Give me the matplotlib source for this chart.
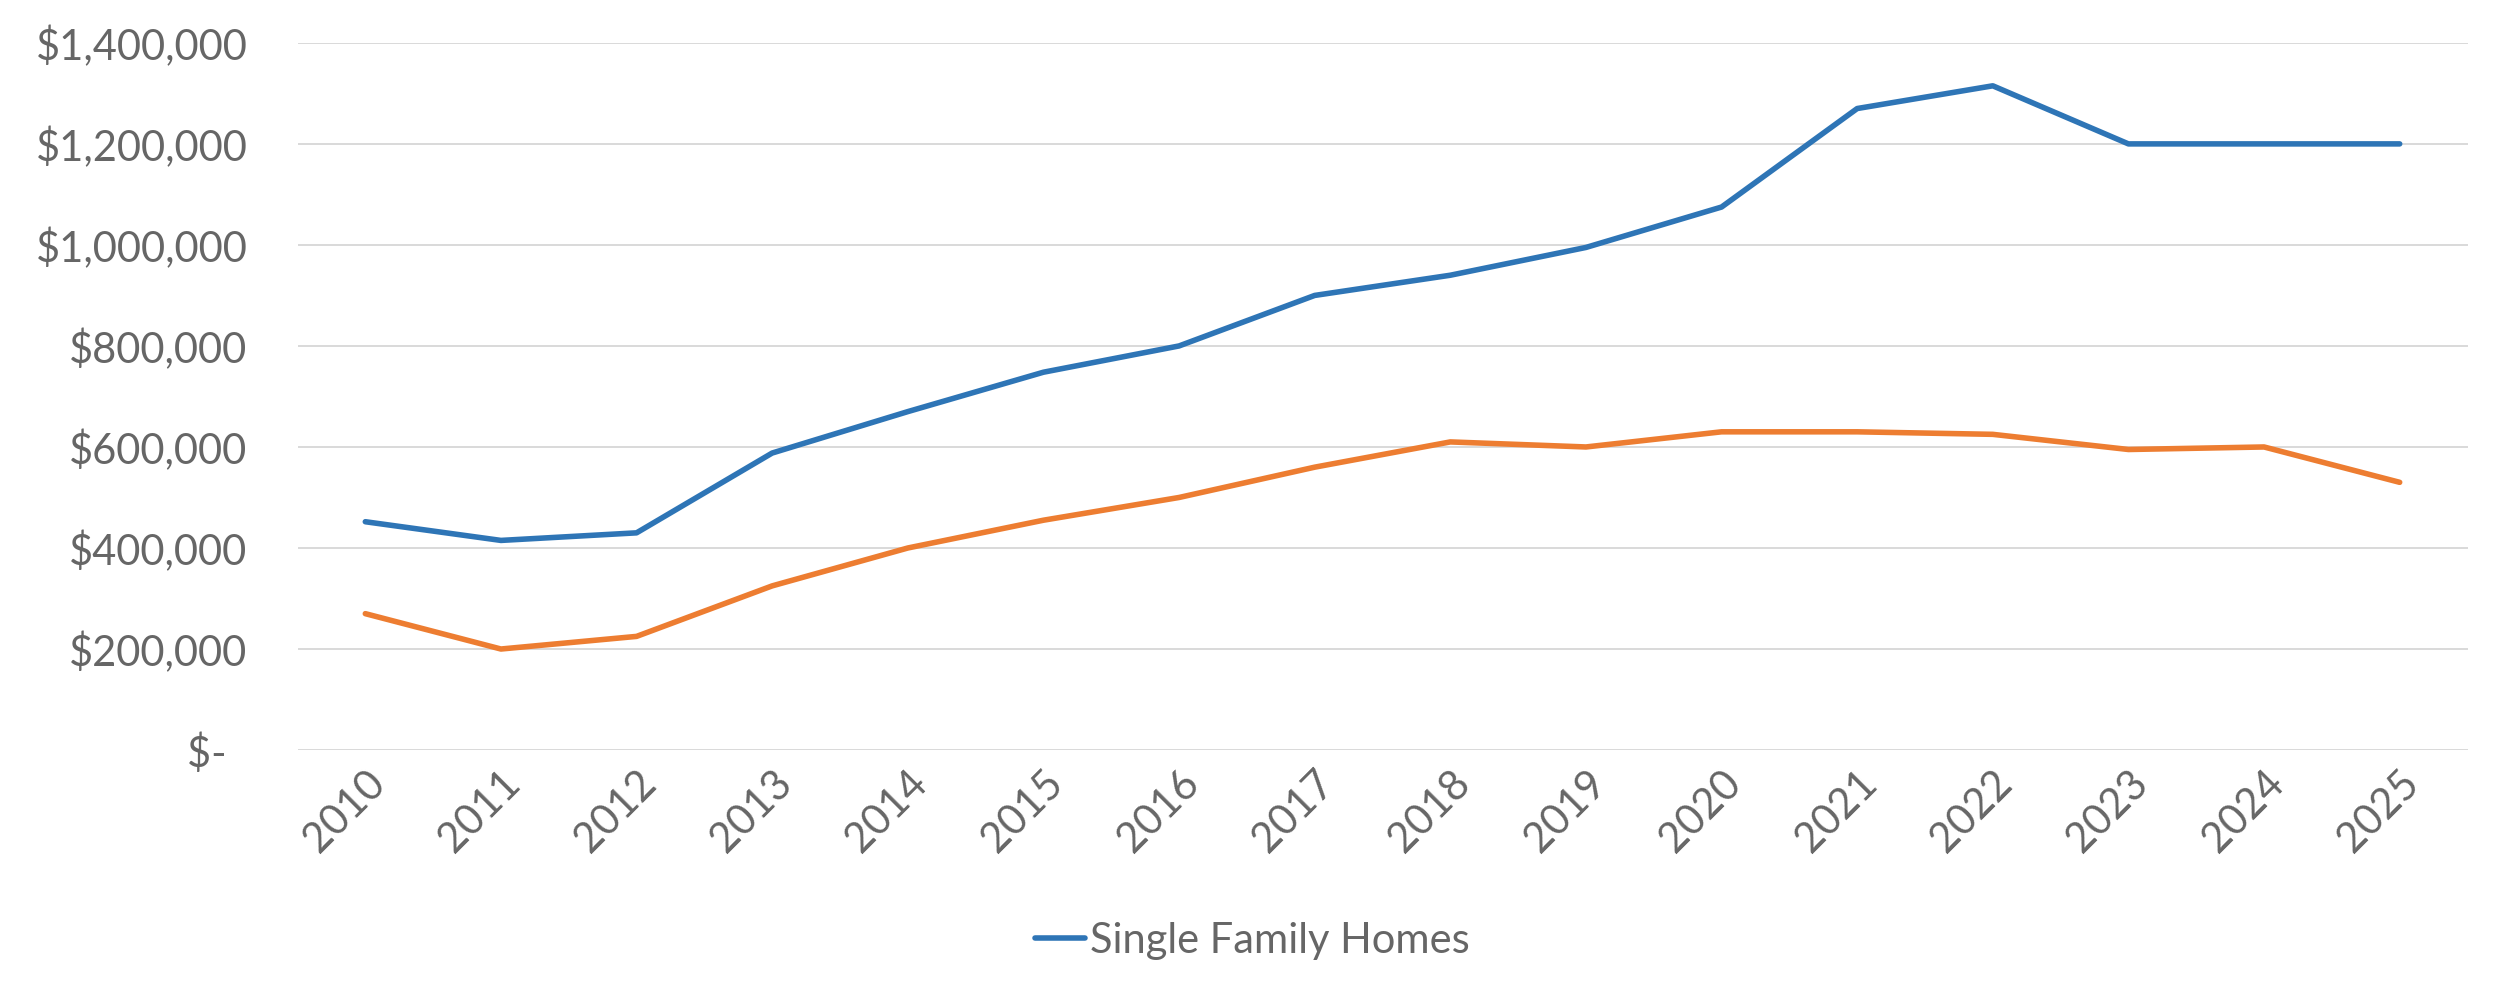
import matplotlib
matplotlib.use("Agg")
import matplotlib.pyplot as plt
from matplotlib.ticker import FuncFormatter

# data
years = [str(y) for y in range(2010, 2026)]
single_family = [452000, 415000, 430000, 588000, 670000, 748000, 800000, 900000,
                 940000, 995000, 1075000, 1270000, 1315000, 1200000, 1200000, 1200000]
condo = [270000, 200000, 225000, 325000, 400000, 455000, 500000, 560000,
         610000, 600000, 630000, 630000, 625000, 595000, 600000, 530000]

plt.rcParams['font.family'] = ['Lato', 'DejaVu Sans']
grey = "#666666"

fig = plt.figure(figsize=(25, 9.97), dpi=100)
ax = fig.add_axes([0.119, 0.2477, 0.868, 0.7093])

x = range(len(years))
ax.plot(x, single_family, color="#2E75B6", linewidth=4, label="Single Family Homes",
        solid_capstyle="round", solid_joinstyle="round")
ax.plot(x, condo, color="#ED7D31", linewidth=4,
        solid_capstyle="round", solid_joinstyle="round")

ax.set_xlim(-0.5, len(years) - 0.5)
ax.set_ylim(0, 1400000)
ax.set_yticks(range(0, 1400001, 200000))


def money(v, pos):
    if v == 0:
        return "$-  "
    return "${:,.0f}".format(v)


ax.yaxis.set_major_formatter(FuncFormatter(money))
ax.set_xticks(list(x))
ax.set_xticklabels(years, rotation=45, ha="right", rotation_mode="anchor")

for lab in ax.get_yticklabels() + ax.get_xticklabels():
    lab.set_fontsize(30)
    lab.set_fontweight("normal")
    lab.set_color(grey)

ax.tick_params(axis="y", length=0, pad=36)
ax.tick_params(axis="x", length=0, pad=10)
ax.grid(axis="y", color="#D9D9D9", linewidth=1.4)
ax.set_axisbelow(True)
for s in ax.spines.values():
    s.set_visible(False)

leg = ax.legend(loc="center", bbox_to_anchor=(0.44, -0.27), frameon=False,
                handlelength=1.2, handletextpad=0.1,
                prop={"family": "Lato", "weight": "normal", "size": 30})
for t in leg.get_texts():
    t.set_color(grey)

fig.savefig("out.png", dpi=100)
